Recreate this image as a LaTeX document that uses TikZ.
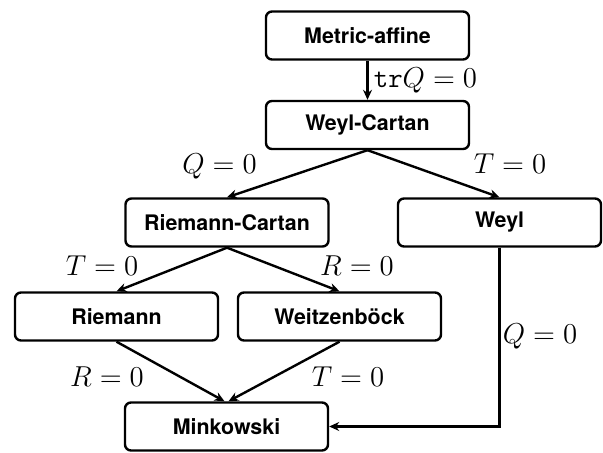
\documentclass[tikz,border=0pt]{standalone}
\usepackage{fontspec}
\newfontfamily\boxfont{TeX Gyre Heros}
\usetikzlibrary{arrows.meta}
\begin{document}
\begin{tikzpicture}[x=0.5pt,y=-0.5pt,line width=1.2pt,
  box/.style={draw, rounded corners=3pt, minimum width=101.5pt, minimum height=24pt,
    font=\boxfont\bfseries\fontsize{10.7}{12}\selectfont},
  lab/.style={font=\fontsize{14}{16}\selectfont, inner sep=0pt},
  >={Stealth[length=5pt,width=4.5pt]}]
\useasboundingbox (0,0) rectangle (603,453);

% theories
\node [box] (ma)   at (367.5,35.5)  {Metric-affine};
\node [box] (wc)   at (367.5,125)   {Weyl-Cartan};
\node [box] (rc)   at (227,222.5)   {Riemann-Cartan};
\node [box] (weyl) at (499.5,222.5) {Weyl};
\node [box] (rie)  at (116.5,316.5) {Riemann};
\node [box] (wei)  at (339.5,316.5) {Weitzenb\"ock};
\node [box] (mink) at (226.5,426.5) {Minkowski};

% restrictions
\draw [->] (ma) -- (wc);
\draw [->] (wc.south) -- (rc.north);
\draw [->] (wc.south) -- (weyl.north);
\draw [->] (rc.south) -- (rie.north);
\draw [->] (rc.south) -- (wei.north);
\draw [->] (rie.south) -- ([xshift=-1pt]mink.north);
\draw [->] (wei.south) -- ([xshift=1pt]mink.north);
\draw [->] (weyl.south) |- (mink.east);

% conditions
\node [lab] (l1) at (425.5,80)  {$\mathtt{tr}Q=0$};
\node [lab] (l2) at (219.5,166) {$Q=0$};
\node [lab] (l3) at (510,164)   {$T=0$};
\node [lab] (l4) at (102,266)   {$T=0$};
\node [lab] (l5) at (357,266)   {$R=0$};
\node [lab] (l6) at (107,377)   {$R=0$};
\node [lab] (l7) at (348,377)   {$T=0$};
\node [lab] (l8) at (540,336)   {$Q=0$};
\end{tikzpicture}
\end{document}
